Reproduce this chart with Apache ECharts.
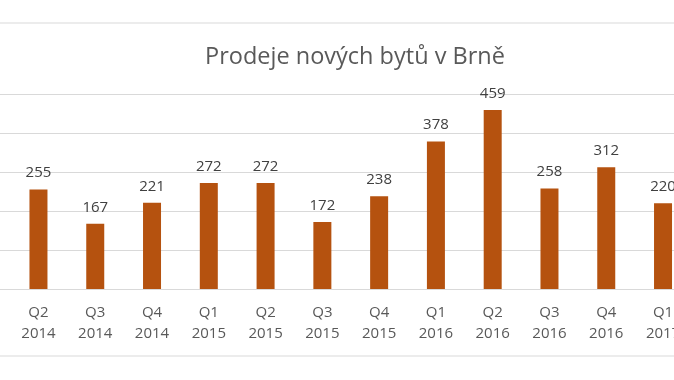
<!DOCTYPE html>
<html>
<head>
<meta charset="utf-8">
<script src="https://cdn.jsdelivr.net/npm/echarts@6/dist/echarts.min.js"></script>
<style>html,body{margin:0;padding:0;background:#fff;}#c{width:674px;height:380px;}</style>
</head>
<body>
<div id="c"></div>
<script>
// Visible quarters (the reference is cropped at both sides; blank padding categories extend the plot beyond the frame)
const quarters = ["Q2", "Q3", "Q4", "Q1", "Q2", "Q3", "Q4", "Q1", "Q2", "Q3", "Q4", "Q1"];
const years = ["2014", "2014", "2014", "2015", "2015", "2015", "2015", "2016", "2016", "2016", "2016", "2017"];
const sales = [255, 167, 221, 272, 272, 172, 238, 378, 459, 258, 312, 220];
const yTicks = [0, 100, 200, 300, 400, 500];

const categories = [""].concat(quarters.map((q, i) => q + "\n" + years[i]), [""]);
const values = [null].concat(sales, [null]);

const chart = echarts.init(document.getElementById('c'), null, {renderer: 'canvas'});
chart.setOption({
  animation: false,
  backgroundColor: '#fff',
  title: {
    text: 'Prodeje nových bytů v Brně',
    left: 350, top: 40, textAlign: 'center',
    textStyle: {fontFamily: 'Open Sans', fontWeight: 'normal', fontSize: 23.5, color: '#595959'}
  },
  graphic: [{
    type: 'rect', silent: true, z: -1,
    shape: {x: -5, y: 23, width: 684, height: 333},
    style: {fill: 'none', stroke: '#d9d9d9', lineWidth: 1}
  }],
  grid: {left: -46.7, width: 794.9, top: 94, bottom: 91, containLabel: false, outerBoundsMode: 'none'},
  xAxis: {
    type: 'category', data: categories,
    axisLine: {lineStyle: {color: '#d9d9d9'}},
    axisTick: {show: false},
    axisLabel: {interval: 0, fontFamily: 'Open Sans', fontSize: 15, color: '#595959', lineHeight: 21, margin: 13}
  },
  yAxis: {
    type: 'value', min: yTicks[0], max: yTicks[yTicks.length - 1], interval: 100,
    axisLabel: {show: false},
    axisLine: {show: false}, axisTick: {show: false},
    splitLine: {lineStyle: {color: '#d9d9d9'}}
  },
  series: [{
    type: 'bar', data: values, barWidth: 18,
    itemStyle: {color: '#B5520F'},
    label: {show: true, position: 'top', distance: 9, fontFamily: 'Open Sans', fontSize: 15, color: '#404040'}
  }]
});
</script>
</body>
</html>
